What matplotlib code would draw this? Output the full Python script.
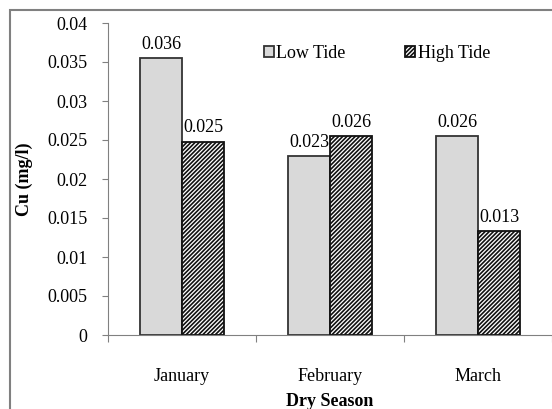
import matplotlib
matplotlib.use("Agg")
import matplotlib.pyplot as plt
import numpy as np
from matplotlib.patches import Rectangle

categories = ["January", "February", "March"]
low_tide = [0.0355, 0.0229, 0.0255]
high_tide = [0.0248, 0.0255, 0.0133]
low_labels = ["0.036", "0.023", "0.026"]
high_labels = ["0.025", "0.026", "0.013"]
yticks = [0, 0.005, 0.01, 0.015, 0.02, 0.025, 0.03, 0.035, 0.04]
ytick_labels = ["0", "0.005", "0.01", "0.015", "0.02", "0.025", "0.03", "0.035", "0.04"]

plt.rcParams['font.family'] = ['Liberation Serif', 'DejaVu Serif']
plt.rcParams['hatch.linewidth'] = 1.2
FS = 13

W, H = 552, 409
fig = plt.figure(figsize=(W/100, H/100), dpi=100)
fig.patch.set_facecolor('white')

# outer frame
fig.patches.append(Rectangle((10/W, -0.05), 1.1, (H-10)/H + 0.05, transform=fig.transFigure,
                             fill=False, edgecolor='#808080', linewidth=1.5))

ax = fig.add_axes([108/W, 74/H, 444/W, 312/H])
x = np.arange(len(categories))
bw = 0.284
b1 = ax.bar(x - bw/2, low_tide, bw, color='#d9d9d9', edgecolor='#333333', linewidth=1.3, label='Low Tide')
b2 = ax.bar(x + bw/2, high_tide, bw, color='white', edgecolor='#111111', linewidth=1.3,
            hatch='////////', label='High Tide')

for rect, lab in zip(b1, low_labels):
    ax.annotate(lab, (rect.get_x() + rect.get_width()/2, rect.get_height()),
                xytext=(0, 4), textcoords='offset points', ha='center', va='bottom', fontsize=FS)
for rect, lab in zip(b2, high_labels):
    ax.annotate(lab, (rect.get_x() + rect.get_width()/2, rect.get_height()),
                xytext=(0, 4), textcoords='offset points', ha='center', va='bottom', fontsize=FS)

ax.set_xlim(-0.5, 2.5)
ax.set_ylim(0, 0.04)
ax.set_yticks(yticks)
ax.set_yticklabels(ytick_labels, fontsize=FS)
ax.set_xticks(x)
ax.set_xticklabels(categories, fontsize=FS)
ax.set_xticks([-0.5, 0.5, 1.5, 2.5], minor=True)
ax.tick_params(axis='x', which='major', length=0, pad=24)
ax.tick_params(axis='x', which='minor', length=5, width=0.8, color='#808080', direction='out')
ax.tick_params(axis='y', length=4, width=0.8, color='#808080', pad=11)

for s in ['top', 'right']:
    ax.spines[s].set_visible(False)
for s in ['left', 'bottom']:
    ax.spines[s].set_color('#808080')
    ax.spines[s].set_linewidth(0.8)

ax.set_ylabel('Cu (mg/l)', fontsize=FS, fontweight='bold')
ax.yaxis.set_label_coords(-(108-33)/444, 0.5)
ax.set_xlabel('Dry Season', fontsize=FS, fontweight='bold', va='center')
ax.xaxis.set_label_coords(0.5, -66/312)

leg = ax.legend(ncol=2, loc='center', bbox_to_anchor=(377/W, (H-53)/H), bbox_transform=fig.transFigure,
                frameon=False, fontsize=FS, handlelength=0.55, handleheight=0.55, handletextpad=0.15,
                columnspacing=3.3, borderaxespad=0)

fig.savefig('out.png', dpi=100)
